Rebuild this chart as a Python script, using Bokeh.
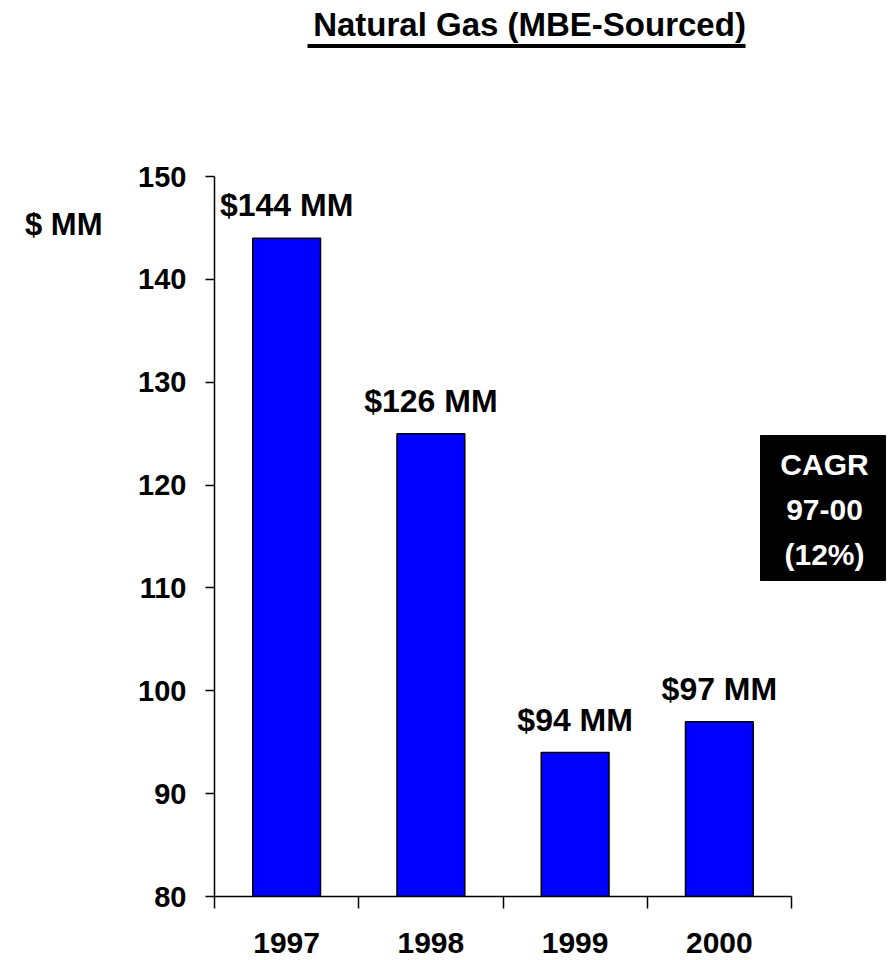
from bokeh.plotting import figure
from bokeh.models import Range1d, FixedTicker, ColumnDataSource, LinearAxis
from bokeh.core.properties import value
from bokeh.embed import file_html
from bokeh.resources import INLINE

# ---- data ----
years = ["1997", "1998", "1999", "2000"]
revenue = [144, 125, 94, 97]
bar_labels = ["$144 MM", "$126 MM", "$94 MM", "$97 MM"]
y_ticks = [80, 90, 100, 110, 120, 130, 140, 150]
title_text = "Natural Gas (MBE-Sourced)"
unit_text = "$ MM"
cagr_lines = ["CAGR", "97-00", "(12%)"]

FONT = "Liberation Sans"

# ---- layout constants (pixels -> data) ----
W, H = 894, 960
LEFT = 214            # page x of the value axis
FRAME_BOTTOM = 896    # page y of the category axis
BOTTOM = H - FRAME_BOTTOM
px_x = 144.25          # pixels per category
px_y = 720 / 70        # pixels per $MM
x_end = (W - LEFT) / px_x
y_end = 80 + FRAME_BOTTOM / px_y


def fx(page_x):
    return (page_x - LEFT) / px_x


def fy(page_y):
    return 80 + (FRAME_BOTTOM - page_y) / px_y


p = figure(width=W, height=H, output_backend="svg", toolbar_location=None,
           x_range=Range1d(0, x_end), y_range=Range1d(80, y_end),
           min_border_left=LEFT, min_border_right=0, min_border_top=0,
           min_border_bottom=BOTTOM)
p.outline_line_color = None
p.xgrid.grid_line_color = None
p.ygrid.grid_line_color = None
p.background_fill_color = "white"
p.border_fill_color = "white"

centers = [i + 0.5 for i in range(len(years))]
src = ColumnDataSource(dict(x=centers, top=revenue, lab=bar_labels))

p.vbar(x="x", top="top", bottom=80, width=0.47, source=src,
       fill_color="#0000FF", line_color="black", line_width=1.5)

p.text(x="x", y="top", text="lab", source=src, text_align="center",
       text_baseline="middle", y_offset=-33,
       text_font=value(FONT), text_font_style="bold",
       text_font_size="32px", text_color="black")

# x axis
xa = p.xaxis[0]
xa.ticker = FixedTicker(ticks=centers, minor_ticks=list(range(len(years) + 1)))
xa.major_label_overrides = {c: y for c, y in zip(centers, years)}
xa.bounds = (0, len(years))
xa.major_tick_line_color = None
xa.major_tick_out = 0
xa.major_tick_in = 0
xa.minor_tick_out = 12
xa.minor_tick_in = 0
xa.minor_tick_line_color = "black"
xa.minor_tick_line_width = 1.5
xa.axis_line_width = 1.5
xa.major_label_standoff = 24
xa.major_label_text_font = FONT
xa.major_label_text_font_style = "bold"
xa.major_label_text_font_size = "30px"
xa.major_label_text_color = "black"

# y axis
ya = p.yaxis[0]
ya.ticker = FixedTicker(ticks=y_ticks)
ya.bounds = (y_ticks[0], y_ticks[-1])
ya.major_tick_out = 9
ya.major_tick_in = 0
ya.major_tick_line_width = 1.5
ya.minor_tick_line_color = None
ya.axis_line_width = 1.5
ya.major_label_standoff = 19
ya.major_label_text_font = FONT
ya.major_label_text_font_style = "bold"
ya.major_label_text_font_size = "29px"
ya.major_label_text_color = "black"

# unit label "$ MM" as an outer axis with a single labelled tick
p.extra_y_ranges = {"unit": Range1d(-(FRAME_BOTTOM - 224), 224)}
ua = LinearAxis(y_range_name="unit", ticker=FixedTicker(ticks=[0]),
                major_label_overrides={0: unit_text})
ua.axis_line_color = None
ua.major_tick_line_color = None
ua.minor_tick_line_color = None
ua.major_tick_out = 0
ua.major_tick_in = 0
ua.major_label_standoff = 33
ua.major_label_text_font = FONT
ua.major_label_text_font_style = "bold"
ua.major_label_text_font_size = "31px"
ua.major_label_text_color = "black"
p.add_layout(ua, "left")

# title with underline
p.text(x=[fx(529)], y=[fy(24)], text=[title_text], text_align="center",
       text_baseline="middle", text_font=value(FONT),
       text_font_style="bold", text_font_size="33px", text_color="black")
p.segment(x0=[fx(307)], y0=[fy(45.5)], x1=[fx(745)], y1=[fy(45.5)],
          line_color="black", line_width=4)

# CAGR box
p.quad(left=[fx(760)], right=[fx(885)], top=[fy(435)], bottom=[fy(580)],
       fill_color="black", line_color="black")
p.text(x=[fx(824)] * 3, y=[fy(464), fy(509.5), fy(553.5)], text=cagr_lines,
       text_align="center", text_baseline="middle",
       text_font=value(FONT), text_font_style="bold",
       text_font_size="30px", text_color="white")

open("out.html", "w").write(file_html(p, INLINE))
